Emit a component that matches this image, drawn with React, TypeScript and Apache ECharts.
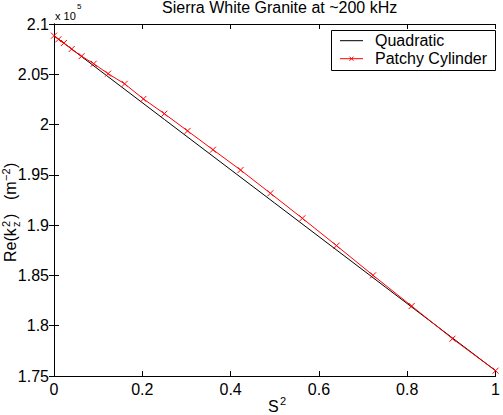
import React, { useEffect, useRef } from "react";
import * as echarts from "echarts";

// S^2 values of the "Patchy Cylinder" markers
const patchyX = [0, 0.01, 0.0225, 0.04, 0.0625, 0.09, 0.1225, 0.16, 0.2025, 0.25, 0.3025, 0.36, 0.4225, 0.49, 0.5625, 0.64, 0.7225, 0.81, 0.9025, 1];
// Re(k_z^2) in units of 1e5 m^-2
const patchyY = [2.0884, 2.0848, 2.0811, 2.0751, 2.068, 2.0605, 2.0506, 2.0405, 2.0255, 2.0108, 1.9937, 1.975, 1.9548, 1.9317, 1.9068, 1.8796, 1.8501, 1.8196, 1.7871, 1.7553];

const quadX = [0, 0.25, 0.5, 0.75, 1];
const quadY = [2.0884, 2.0051, 1.9219, 1.8386, 1.7553];

const seriesNames = ["Quadratic", "Patchy Cylinder"];
const seriesColors = ["#000000", "#ff0000"];
const titleText = "Sierra White Granite at ~200 kHz";

const FONT = "Liberation Sans, Arial, Helvetica, sans-serif";

export default function App() {
  const ref = useRef<HTMLDivElement>(null);
  useEffect(() => {
    if (!ref.current) return;
    const chart = echarts.init(ref.current, null, { renderer: "svg" });
    const axisCommon = {
      type: "value" as const,
      axisLine: { show: true, lineStyle: { color: "#000", width: 1 } },
      axisTick: { show: true, inside: true, length: 5, lineStyle: { color: "#000" } },
      splitLine: { show: false },
    };
    const txt = (text: string, x: number, y: number, size: number, va = "bottom") => ({
      type: "text",
      x,
      y,
      style: {
        text,
        fill: "#000",
        font: `${size}px ${FONT}`,
        fontSize: size,
        fontFamily: FONT,
        textVerticalAlign: va,
        verticalAlign: va,
        textAlign: "left",
        align: "left",
      },
    });
    // manual legend
    const lgX = 331, lgY = 30, lgW = 164, lgH = 40;
    const rowY = [40.7, 58.7];
    const legendEls: any[] = [
      {
        type: "rect",
        shape: { x: lgX + 0.5, y: lgY + 0.5, width: lgW, height: lgH },
        style: { fill: "#fff", stroke: "#000", lineWidth: 1 },
      },
    ];
    seriesNames.forEach((n, i) => {
      legendEls.push({
        type: "line",
        shape: { x1: 340, y1: rowY[i], x2: 363, y2: rowY[i] },
        style: { stroke: seriesColors[i], lineWidth: 1 },
      });
      legendEls.push(txt(n, 375, rowY[i], 16, "middle"));
    });
    legendEls.push(
      {
        type: "line",
        shape: { x1: 349.5, y1: rowY[1] - 2, x2: 353.5, y2: rowY[1] + 2 },
        style: { stroke: seriesColors[1], lineWidth: 1 },
      },
      {
        type: "line",
        shape: { x1: 349.5, y1: rowY[1] + 2, x2: 353.5, y2: rowY[1] - 2 },
        style: { stroke: seriesColors[1], lineWidth: 1 },
      }
    );
    chart.setOption({
      animation: false,
      backgroundColor: "#fff",
      title: {
        text: titleText,
        left: 162,
        top: -1,
        padding: 0,
        textStyle: { fontSize: 16, fontWeight: "normal", color: "#000", fontFamily: FONT },
      },
      grid: { left: 54, right: 2, top: 24, bottom: 39, containLabel: false },
      xAxis: [
        {
          ...axisCommon,
          position: "bottom",
          min: 0,
          max: 1,
          interval: 0.2,
          axisLabel: { color: "#000", fontSize: 16, fontFamily: FONT, margin: 5 },
        },
        {
          ...axisCommon,
          position: "top",
          min: 0,
          max: 1,
          interval: 0.2,
          axisLabel: { show: false },
        },
      ],
      yAxis: [
        {
          ...axisCommon,
          position: "left",
          min: 1.75,
          max: 2.1,
          interval: 0.05,
          axisLabel: { color: "#000", fontSize: 16, fontFamily: FONT, margin: 5 },
        },
        {
          ...axisCommon,
          position: "right",
          min: 1.75,
          max: 2.1,
          interval: 0.05,
          axisLabel: { show: false },
        },
      ],
      series: [
        {
          name: seriesNames[0],
          type: "line",
          data: quadX.map((x, i) => [x, quadY[i]]),
          symbol: "none",
          lineStyle: { color: seriesColors[0], width: 1 },
          itemStyle: { color: seriesColors[0] },
        },
        {
          name: seriesNames[1],
          type: "line",
          data: patchyX.map((x, i) => [x, patchyY[i]]),
          symbol: "path://M0,0L10,10M10,0L0,10",
          symbolSize: 6,
          lineStyle: { color: seriesColors[1], width: 1 },
          itemStyle: { color: seriesColors[1], borderColor: seriesColors[1], borderWidth: 1 },
        },
      ],
      graphic: [
        txt("x 10", 55, 21, 11),
        txt("5", 77, 10, 8),
        txt("S", 268, 414, 16),
        txt("2", 280, 406, 11),
        {
          type: "group",
          x: 18,
          y: 262,
          rotation: Math.PI / 2,
          children: [
            txt("Re(k", 0, 0, 16),
            txt("2", 35, -7, 11),
            txt("z", 35, 3, 11),
            txt(")", 43, 0, 16),
            txt("(m", 62, 0, 16),
            txt("\u22122", 81, -7, 11),
            txt(")", 94, 0, 16),
          ],
        },
        ...legendEls,
      ],
    });
    return () => chart.dispose();
  }, []);
  return <div ref={ref} style={{ width: 503, height: 415, position: "absolute", left: 0, top: 0 }} />;
}
